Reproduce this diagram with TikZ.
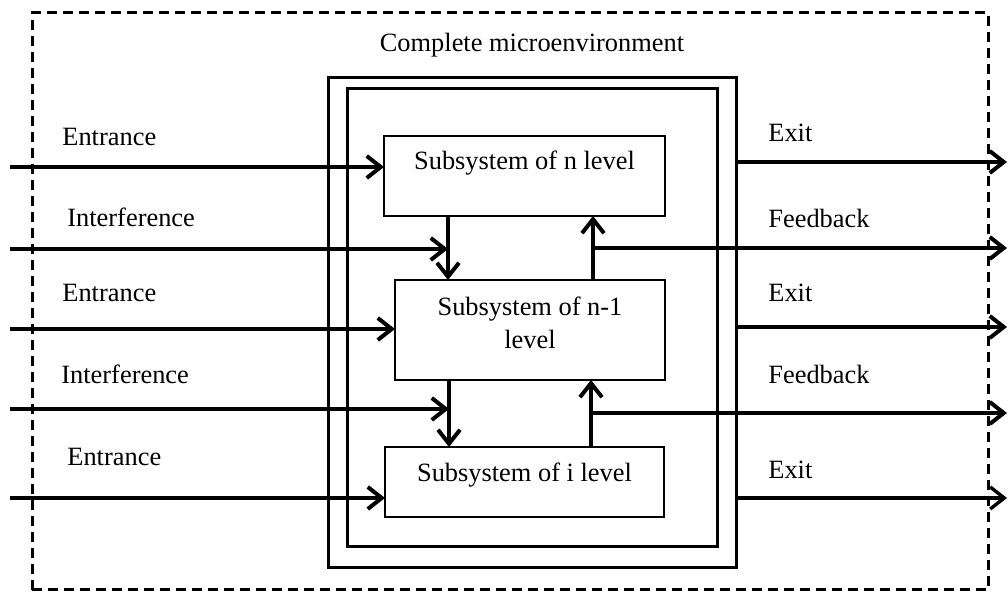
\documentclass[tikz,border=0pt]{standalone}
\usepackage{fontspec}
\setmainfont{Liberation Serif}
\usetikzlibrary{arrows.meta,calc}
\begin{document}
\begin{tikzpicture}[x=0.5pt,y=-0.5pt,
  every node/.style={font=\fontsize{13.2}{16.5}\selectfont},
  frame/.style={draw,line width=1.5pt,inner sep=0pt,outer sep=0pt},
  subbox/.style={draw,line width=1.2pt,inner sep=0pt,outer sep=0pt},
  envbox/.style={draw,line width=1.5pt,dash pattern=on 5pt off 3pt,inner sep=0pt,outer sep=0pt},
  flow/.style={line width=2pt,-{Straight Barb[length=7pt,width=11pt]}},
  tag/.style={anchor=west,inner sep=0pt}
]
\useasboundingbox (0,0) rectangle (1008,592);

% environment and the two system frames
\node[envbox,minimum width=478pt,minimum height=288.5pt] (env) at (510,301.5) {};
\node[frame,minimum width=204pt,minimum height=245pt] (outer) at (532,323) {};
\node[frame,minimum width=185pt,minimum height=229pt] (inner) at (532,318) {};
\node (title) at (532,45) {Complete microenvironment};

% subsystems
\node[subbox,minimum width=140.5pt,minimum height=40pt] (nbox) at (524.5,176) {};
\node[subbox,minimum width=135pt,minimum height=50pt] (n1box) at (530,330) {};
\node[subbox,minimum width=139.5pt,minimum height=35pt] (ibox) at (524.5,482) {};
\node (ntext) at (524.5,163) {Subsystem of n level};
\node[align=center] (n1text) at (530,323) {Subsystem of n-1\\level};
\node (itext) at (524.5,475) {Subsystem of i level};

% inputs on the left
\coordinate (e1) at (10,167);
\coordinate (f1) at (10,249);
\coordinate (e2) at (10,329);
\coordinate (f2) at (10,409);
\coordinate (e3) at (10,498);

% links between levels
\coordinate (d1) at (448,216);
\coordinate (d2) at (449,380);
\coordinate (u1) at (593,280);
\coordinate (u2) at (591,447);
\coordinate (fb1) at (593,248);
\coordinate (fb2) at (591,413);

% outputs on the right
\coordinate (x1) at (1007,162);
\coordinate (x2) at (1007,327);
\coordinate (x3) at (1007,498);
\coordinate (g1) at (1007,248);
\coordinate (g2) at (1007,413);

\draw[flow] (e1) -- (e1 -| nbox.west);
\draw[flow] (e2) -- (e2 -| n1box.west);
\draw[flow] (e3) -- (e3 -| ibox.west);
\draw[flow] (f1) -- (f1 -| d1);
\draw[flow] (f2) -- (f2 -| d2);

\draw[flow] (d1 |- nbox.south) -- (d1 |- n1box.north);
\draw[flow] (d2 |- n1box.south) -- (d2 |- ibox.north);
\draw[flow] (u1 |- n1box.north) -- (u1 |- nbox.south);
\draw[flow] (u2 |- ibox.north) -- (u2 |- n1box.south);

\draw[flow] (fb1) -- (g1);
\draw[flow] (fb2) -- (g2);
\draw[flow] (outer.east |- x1) -- (x1);
\draw[flow] (outer.east |- x2) -- (x2);
\draw[flow,line width=1.7pt] (outer.east |- x3) -- (x3);

% labels
\node[tag] (le1) at (62,137) {Entrance};
\node[tag] (lf1) at (67,217) {Interference};
\node[tag] (le2) at (62,293) {Entrance};
\node[tag] (lf2) at (61,374) {Interference};
\node[tag] (le3) at (67,457) {Entrance};
\node[tag] (lx1) at (768,133) {Exit};
\node[tag] (lg1) at (768,218) {Feedback};
\node[tag] (lx2) at (768,293) {Exit};
\node[tag] (lg2) at (768,374) {Feedback};
\node[tag] (lx3) at (768,470) {Exit};
\end{tikzpicture}
\end{document}
